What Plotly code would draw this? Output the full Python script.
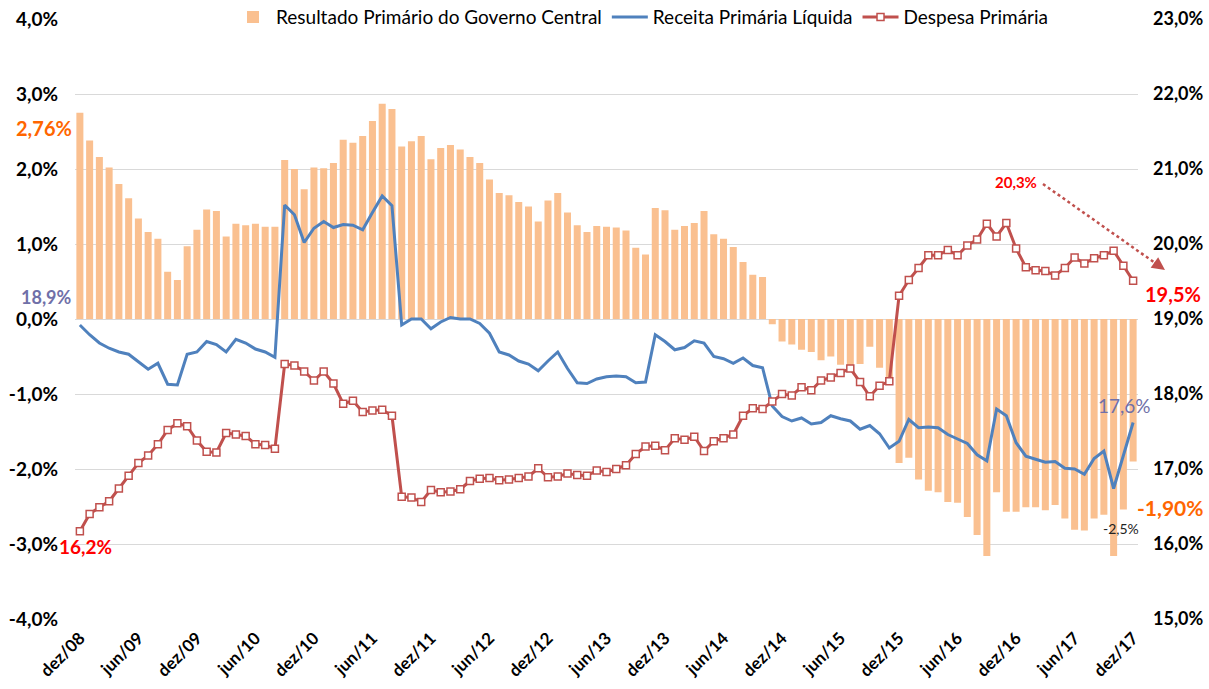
import plotly.graph_objects as go

# ---- data (12-month accumulated, % of GDP) ----
months_pt = ["jan", "fev", "mar", "abr", "mai", "jun", "jul", "ago", "set", "out", "nov", "dez"]
categories = ["dez/08"] + [f"{m}/{y:02d}" for y in range(9, 18) for m in months_pt]

resultado = [
    2.75, 2.38, 2.16, 2.02, 1.80, 1.61, 1.34, 1.16, 1.07, 0.63, 0.52, 0.97,
    1.19, 1.46, 1.44, 1.10, 1.27, 1.25, 1.27, 1.23, 1.23, 2.12, 2.00, 1.73,
    2.02, 2.01, 2.08, 2.39, 2.35, 2.44, 2.64, 2.87, 2.80, 2.30, 2.37, 2.44,
    2.13, 2.28, 2.32, 2.26, 2.16, 2.08, 1.86, 1.68, 1.65, 1.56, 1.50, 1.30,
    1.58, 1.68, 1.42, 1.25, 1.16, 1.24, 1.23, 1.22, 1.18, 0.95, 0.86, 1.48,
    1.45, 1.19, 1.24, 1.28, 1.44, 1.13, 1.07, 0.96, 0.76, 0.59, 0.56, -0.07,
    -0.30, -0.34, -0.41, -0.44, -0.55, -0.50, -0.61, -0.64, -0.60, -0.37, -0.65, -0.85,
    -1.92, -1.85, -2.14, -2.29, -2.31, -2.44, -2.45, -2.64, -2.88, -3.16, -2.31, -2.57,
    -2.57, -2.51, -2.51, -2.55, -2.48, -2.66, -2.81, -2.82, -2.66, -2.61, -3.16, -2.54,
    -1.90,
]

receita = [
    18.92, 18.79, 18.68, 18.61, 18.56, 18.53, 18.43, 18.33, 18.41, 18.13, 18.12, 18.53,
    18.56, 18.70, 18.66, 18.56, 18.73, 18.68, 18.60, 18.56, 18.49, 20.52, 20.39, 20.02,
    20.21, 20.30, 20.22, 20.26, 20.25, 20.19, 20.42, 20.64, 20.51, 18.92, 19.00, 19.00,
    18.87, 18.96, 19.02, 19.00, 19.00, 18.94, 18.81, 18.56, 18.52, 18.44, 18.40, 18.31,
    18.44, 18.56, 18.34, 18.15, 18.14, 18.20, 18.23, 18.24, 18.23, 18.15, 18.16, 18.79,
    18.70, 18.59, 18.62, 18.71, 18.68, 18.50, 18.47, 18.41, 18.48, 18.38, 18.35, 17.84,
    17.70, 17.64, 17.68, 17.60, 17.62, 17.71, 17.67, 17.64, 17.53, 17.58, 17.47, 17.28,
    17.37, 17.66, 17.55, 17.56, 17.55, 17.46, 17.40, 17.34, 17.19, 17.11, 17.80, 17.71,
    17.35, 17.17, 17.13, 17.09, 17.10, 17.01, 17.00, 16.93, 17.14, 17.24, 16.74, 17.19,
    17.62,
]

despesa = [
    16.17, 16.40, 16.49, 16.57, 16.74, 16.91, 17.08, 17.18, 17.33, 17.52, 17.61, 17.57,
    17.38, 17.23, 17.22, 17.48, 17.46, 17.44, 17.33, 17.32, 17.27, 18.40, 18.38, 18.30,
    18.18, 18.30, 18.14, 17.87, 17.91, 17.76, 17.78, 17.79, 17.71, 16.63, 16.62, 16.56,
    16.72, 16.69, 16.70, 16.73, 16.84, 16.87, 16.88, 16.85, 16.86, 16.88, 16.90, 17.01,
    16.89, 16.90, 16.94, 16.92, 16.91, 16.98, 16.96, 17.00, 17.05, 17.20, 17.30, 17.31,
    17.25, 17.41, 17.39, 17.43, 17.24, 17.37, 17.41, 17.46, 17.71, 17.81, 17.80, 17.90,
    18.00, 17.98, 18.09, 18.05, 18.18, 18.22, 18.28, 18.34, 18.16, 17.97, 18.11, 18.17,
    19.31, 19.52, 19.68, 19.85, 19.85, 19.92, 19.85, 19.98, 20.06, 20.27, 20.10, 20.28,
    19.94, 19.69, 19.65, 19.64, 19.58, 19.68, 19.82, 19.74, 19.81, 19.85, 19.91, 19.71,
    19.51,
]

tick_labels = ["dez/08", "jun/09", "dez/09", "jun/10", "dez/10", "jun/11", "dez/11",
               "jun/12", "dez/12", "jun/13", "dez/13", "jun/14", "dez/14", "jun/15",
               "dez/15", "jun/16", "dez/16", "jun/17", "dez/17"]
left_ticks = [-4, -3, -2, -1, 0, 1, 2, 3, 4]
left_tick_text = ["-4,0%", "-3,0%", "-2,0%", "-1,0%", "0,0%", "1,0%", "2,0%", "3,0%", "4,0%"]
right_ticks = [15, 16, 17, 18, 19, 20, 21, 22, 23]
right_tick_text = ["15,0%", "16,0%", "17,0%", "18,0%", "19,0%", "20,0%", "21,0%", "22,0%", "23,0%"]

FONT = "Lato"
ORANGE = "#FAC090"
BLUE = "#4F81BD"
RED = "#C0504D"

fig = go.Figure()
fig.add_trace(go.Bar(
    x=categories, y=resultado, name="Resultado Primário do Governo Central",
    marker=dict(color=ORANGE, line=dict(width=0)), yaxis="y",
))
fig.add_trace(go.Scatter(
    x=categories, y=receita, name="Receita Primária Líquida", mode="lines",
    line=dict(color=BLUE, width=3), yaxis="y2",
))
fig.add_trace(go.Scatter(
    x=categories, y=despesa, name="Despesa Primária", mode="lines+markers",
    line=dict(color=RED, width=3),
    marker=dict(symbol="square", size=7, color="white", line=dict(color=RED, width=1.5)),
    yaxis="y2",
))

plot_l, plot_r, plot_t, plot_b = 75, 1138, 19, 619
W, H = 1209, 689
def px_to_paper(px, py):
    return (px - plot_l) / (plot_r - plot_l), (plot_b - py) / (plot_b - plot_t)

tail_x, tail_y = px_to_paper(1043, 184)
head_x, head_y = px_to_paper(1165, 270)
legend_x, _ = px_to_paper(642, 0)

annotations = [
    dict(x=categories[0], y=resultado[0], xref="x", yref="y", text="<b>2,76%</b>",
         showarrow=False, xanchor="right", xshift=-6, yshift=-15,
         font=dict(color="#FF6600", size=20, family=FONT)),
    dict(x=categories[0], y=receita[0], xref="x", yref="y2", text="<b>18,9%</b>",
         showarrow=False, xanchor="right", xshift=-6, yshift=28,
         font=dict(color="#7070A8", size=18, family=FONT)),
    dict(x=categories[0], y=despesa[0], xref="x", yref="y2", text="<b>16,2%</b>",
         showarrow=False, xanchor="center", xshift=6, yshift=-15,
         font=dict(color="#FF0000", size=19, family=FONT)),
    dict(x=categories[96], y=20.83, xref="x", yref="y2", text="<b>20,3%</b>",
         showarrow=False, xanchor="center",
         font=dict(color="#FF0000", size=15, family=FONT)),
    dict(x=categories[108], y=despesa[108], xref="x", yref="y2", text="<b>19,5%</b>",
         showarrow=False, xanchor="left", xshift=10, yshift=-13,
         font=dict(color="#FF0000", size=20, family=FONT)),
    dict(x=categories[108], y=receita[108], xref="x", yref="y2", text="17,6%",
         showarrow=False, xanchor="right", xshift=20, yshift=17,
         font=dict(color="#7070A8", size=19, family=FONT)),
    dict(x=categories[108], y=resultado[108], xref="x", yref="y", text="<b>-1,90%</b>",
         showarrow=False, xanchor="left", xshift=2, yshift=-46,
         font=dict(color="#FF6600", size=21, family=FONT)),
    dict(x=categories[106], y=resultado[106], xref="x", yref="y", text="-2,5%",
         showarrow=False, xanchor="left", xshift=-13, yshift=28,
         font=dict(color="#222222", size=14, family=FONT)),
    # arrow head only (short solid segment); the dotted body is a shape
    dict(x=head_x, y=head_y, xref="paper", yref="paper",
         ax=-12, ay=-8.5, axref="pixel", ayref="pixel",
         text="", showarrow=True, arrowhead=2, arrowsize=1.3, arrowwidth=2,
         arrowcolor=RED),
]

shapes = [
    dict(type="line", xref="paper", yref="paper", x0=tail_x, y0=tail_y,
         x1=head_x - (head_x - tail_x) * 0.08, y1=head_y - (head_y - tail_y) * 0.08,
         line=dict(color=RED, width=2.5, dash="dot"), layer="above"),
]

fig.update_layout(
    width=W, height=H,
    margin=dict(l=plot_l, r=W - plot_r, t=plot_t, b=H - plot_b, autoexpand=False),
    paper_bgcolor="white", plot_bgcolor="white",
    font=dict(family=FONT, color="black"),
    bargap=0.28,
    showlegend=True,
    legend=dict(orientation="h", x=legend_x, xanchor="center", y=1.003, yanchor="middle",
                bgcolor="rgba(255,255,255,1)", font=dict(size=19, family=FONT, color="black"),
                traceorder="normal", itemwidth=36, tracegroupgap=0),
    xaxis=dict(
        type="category", tickmode="array", tickvals=tick_labels, ticktext=tick_labels,
        tickangle=-45, tickfont=dict(size=17, family=FONT, color="black", weight="bold"),
        showgrid=False, showline=False, ticks="", range=[-0.5, 108.5], automargin=False,
        ticklabelstandoff=5,
    ),
    yaxis=dict(
        range=[-4, 4], tickmode="array", tickvals=left_ticks, ticktext=left_tick_text,
        tickfont=dict(size=19, family=FONT, color="black", weight="bold"),
        showgrid=True, gridcolor="#D9D9D9", gridwidth=1, zeroline=False,
        showline=False, ticks="", ticklabelstandoff=16, automargin=False,
    ),
    yaxis2=dict(
        range=[15, 23], overlaying="y", side="right", tickmode="array",
        tickvals=right_ticks, ticktext=right_tick_text,
        tickfont=dict(size=18, family=FONT, color="black", weight="bold"),
        showgrid=False, zeroline=False, showline=False, ticks="", ticklabelstandoff=14,
        automargin=False,
    ),
    annotations=annotations,
    shapes=shapes,
)

fig.write_html(
    "out.html",
    config={"displayModeBar": False},
    post_script="document.body.style.margin='0px';document.body.style.padding='0px';",
)
